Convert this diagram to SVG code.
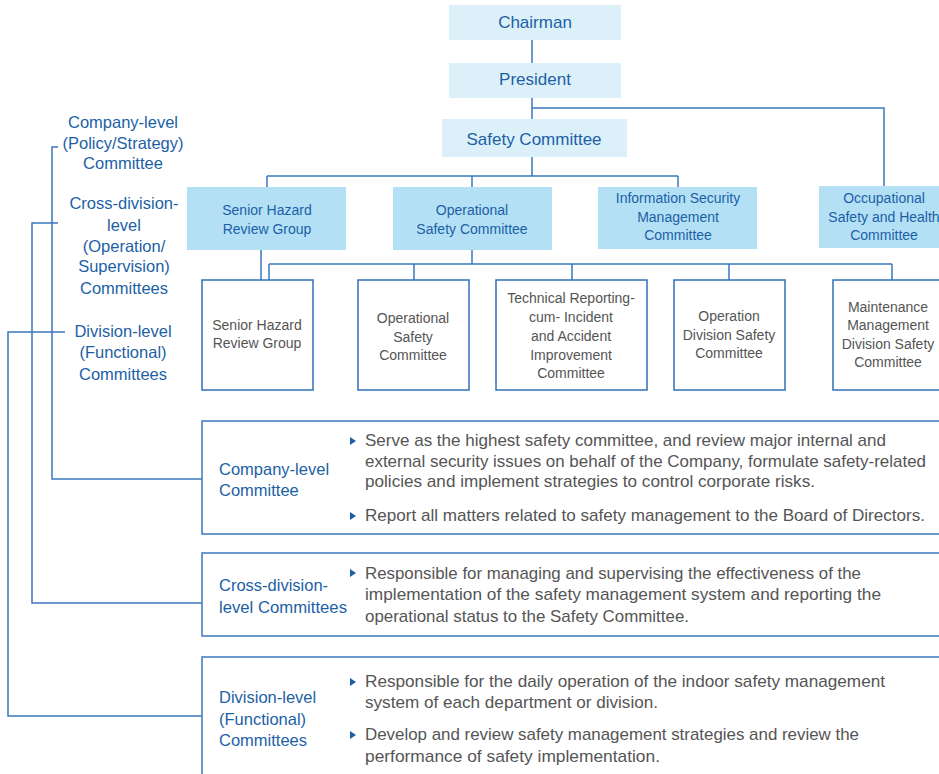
<svg xmlns="http://www.w3.org/2000/svg" width="939" height="774" viewBox="0 0 939 774">
<style>
text{font-family:"Liberation Sans",Arial,sans-serif}
.top{fill:#dcf0fa}
.lv2{fill:#b3e0f5}
.wb{fill:#fff;stroke:#3170b8;stroke-width:1.5}
.bb{fill:#fff;stroke:#3b78bf;stroke-width:1.5}
.bt{fill:#1d5fa6;text-anchor:middle}
.t17{font-size:17px}
.t16{font-size:16.5px}
.t14{font-size:14px}
.gt{fill:#555;font-size:14px;text-anchor:middle}
.lab{fill:#1d5fa6;font-size:16.5px}
.body{fill:#555;font-size:17px}
.conn{fill:none;stroke:#3b78bf;stroke-width:1.5}
.tri{fill:#1d5fa6}
</style>
<g id="connectors" class="conn">
<path d="M532,40V63M532,98V119M532,108H884V186M532,157V176M267,176H678M267,176V187M472,176V187M678,176V187"/>
<path d="M261,250V280M472,250V264M269,264H892M269,264V280M414,264V280M572,264V280M729,264V280M892,264V280"/>
<path d="M58,147H52V479H202M58,223H32V603H202M65,332H8V716H202"/>
</g>
<g id="chairman"><rect class="top" x="449" y="5" width="172" height="35"/><text class="bt t17" x="535" y="28">Chairman</text></g>
<g id="president"><rect class="top" x="449" y="63" width="172" height="35"/><text class="bt t17" x="535" y="85">President</text></g>
<g id="safety-committee"><rect class="top" x="442" y="119" width="185" height="38"/><text class="bt t17" x="534" y="145">Safety Committee</text></g>
<g id="senior-hazard-top"><rect class="lv2" x="187" y="187" width="159" height="63"/><text class="bt t14" x="267" y="215">Senior Hazard</text><text class="bt t14" x="267" y="234">Review Group</text></g>
<g id="operational-top"><rect class="lv2" x="393" y="187" width="159" height="63"/><text class="bt t14" x="472" y="215">Operational</text><text class="bt t14" x="472" y="234">Safety Committee</text></g>
<g id="infosec"><rect class="lv2" x="598" y="187" width="159" height="62"/><text class="bt t14" x="678" y="203">Information Security</text><text class="bt t14" x="678" y="222">Management</text><text class="bt t14" x="678" y="240">Committee</text></g>
<g id="occupational"><rect class="lv2" x="819" y="186" width="130" height="62"/><text class="bt t14" x="884" y="203">Occupational</text><text class="bt t14" x="884" y="222">Safety and Health</text><text class="bt t14" x="884" y="240">Committee</text></g>
<g id="senior-hazard"><rect class="wb" x="202" y="280" width="111" height="110"/><text class="gt" x="257" y="330">Senior Hazard</text><text class="gt" x="257" y="348">Review Group</text></g>
<g id="operational-safety"><rect class="wb" x="358" y="280" width="111" height="110"/><text class="gt" x="413" y="323">Operational</text><text class="gt" x="413" y="342">Safety</text><text class="gt" x="413" y="360">Committee</text></g>
<g id="technical-reporting"><rect class="wb" x="496" y="280" width="151" height="110"/><text class="gt" x="571" y="303">Technical Reporting-</text><text class="gt" x="571" y="322">cum- Incident</text><text class="gt" x="571" y="341">and Accident</text><text class="gt" x="571" y="360">Improvement</text><text class="gt" x="571" y="378">Committee</text></g>
<g id="operation-division"><rect class="wb" x="674" y="280" width="111" height="110"/><text class="gt" x="729" y="321">Operation</text><text class="gt" x="729" y="340">Division Safety</text><text class="gt" x="729" y="358">Committee</text></g>
<g id="maintenance"><rect class="wb" x="833" y="280" width="111" height="110"/><text class="gt" x="888" y="312">Maintenance</text><text class="gt" x="888" y="330">Management</text><text class="gt" x="888" y="349">Division Safety</text><text class="gt" x="888" y="367">Committee</text></g>
<g id="label-company" class="bt t16"><text x="123" y="128">Company-level</text><text x="123" y="149">(Policy/Strategy)</text><text x="123" y="169">Committee</text></g>
<g id="label-cross" class="bt t16"><text x="124" y="209">Cross-division-</text><text x="124" y="231">level</text><text x="124" y="252">(Operation/</text><text x="124" y="272">Supervision)</text><text x="124" y="294">Committees</text></g>
<g id="label-division" class="bt t16"><text x="123" y="337">Division-level</text><text x="123" y="358">(Functional)</text><text x="123" y="380">Committees</text></g>
<g id="box-company">
<rect class="bb" x="202" y="421" width="760" height="113"/>
<text class="lab" x="219" y="475">Company-level</text><text class="lab" x="219" y="496">Committee</text>
<polygon class="tri" points="350,437 356,441 350,445"/>
<text class="body" x="365" y="446" textLength="521" lengthAdjust="spacingAndGlyphs">Serve as the highest safety committee, and review major internal and</text>
<text class="body" x="365" y="467" textLength="561" lengthAdjust="spacingAndGlyphs">external security issues on behalf of the Company, formulate safety-related</text>
<text class="body" x="365" y="487" textLength="450" lengthAdjust="spacingAndGlyphs">policies and implement strategies to control corporate risks.</text>
<polygon class="tri" points="350,512 356,516 350,520"/>
<text class="body" x="365" y="521" textLength="560" lengthAdjust="spacingAndGlyphs">Report all matters related to safety management to the Board of Directors.</text>
</g>
<g id="box-cross">
<rect class="bb" x="202" y="553" width="760" height="83"/>
<text class="lab" x="219" y="591">Cross-division-</text><text class="lab" x="219" y="613" textLength="128" lengthAdjust="spacingAndGlyphs">level Committees</text>
<polygon class="tri" points="350,569 356,573 350,577"/>
<text class="body" x="365" y="579" textLength="496" lengthAdjust="spacingAndGlyphs">Responsible for managing and supervising the effectiveness of the</text>
<text class="body" x="365" y="600" textLength="516" lengthAdjust="spacingAndGlyphs">implementation of the safety management system and reporting the</text>
<text class="body" x="365" y="622" textLength="324" lengthAdjust="spacingAndGlyphs">operational status to the Safety Committee.</text>
</g>
<g id="box-division">
<rect class="bb" x="202" y="657" width="760" height="140"/>
<text class="lab" x="219" y="703">Division-level</text><text class="lab" x="219" y="725">(Functional)</text><text class="lab" x="219" y="746">Committees</text>
<polygon class="tri" points="350,678 356,682 350,686"/>
<text class="body" x="365" y="687" textLength="520" lengthAdjust="spacingAndGlyphs">Responsible for the daily operation of the indoor safety management</text>
<text class="body" x="365" y="708" textLength="293" lengthAdjust="spacingAndGlyphs">system of each department or division.</text>
<polygon class="tri" points="350,731 356,735 350,739"/>
<text class="body" x="365" y="740" textLength="494" lengthAdjust="spacingAndGlyphs">Develop and review safety management strategies and review the</text>
<text class="body" x="365" y="762" textLength="295" lengthAdjust="spacingAndGlyphs">performance of safety implementation.</text>
</g>
</svg>
